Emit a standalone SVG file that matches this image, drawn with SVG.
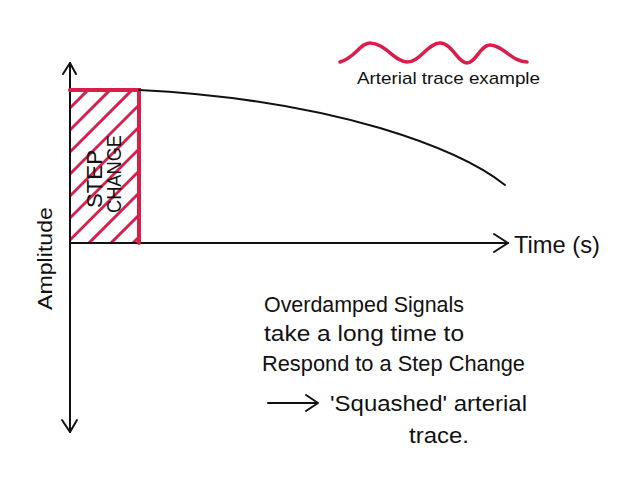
<svg xmlns="http://www.w3.org/2000/svg" width="620" height="489" viewBox="0 0 620 489">
<style>
.ax{stroke:#111;stroke-width:2;fill:none;stroke-linecap:round;stroke-linejoin:round}
.red{stroke:#d81e4a;fill:none;stroke-linecap:round}
.t{font-family:"Liberation Sans",Arial,sans-serif;fill:#111}
</style>
<defs>
<clipPath id="cr"><rect x="71" y="91" width="67" height="151"/></clipPath>
</defs>
<rect width="620" height="489" fill="#fff"/>
<g id="connectors">
<path class="ax" d="M70,63 L70,432"/>
<path class="ax" d="M63,74 L70,63 L76,74"/>
<path class="ax" d="M62,420 L70,432 L77,420"/>
<path class="ax" d="M70,243 L508,243"/>
<path class="ax" d="M494,234 L508,243 L494,252"/>
<path class="ax" d="M268,403 L318,403 M306,395 L318,403 L306,411"/>
</g>
<g id="step-change">
<g clip-path="url(#cr)" class="red" stroke-width="3">
<path d="M60,118 L106,72 M60,140 L128,72 M60,162 L150,72 M60,184 L160,84 M60,206 L160,106 M60,228 L160,128 M60,250 L160,150 M70,262 L160,172 M92,262 L160,194 M114,262 L160,216 M136,262 L160,238"/>
</g>
<path class="red" stroke-width="4" d="M70,90 L139,90 L139,243"/>
<text class="t" font-size="22" textLength="58" lengthAdjust="spacingAndGlyphs" transform="translate(102,208) rotate(-90)">STEP</text>
<text class="t" font-size="20" textLength="78" lengthAdjust="spacingAndGlyphs" transform="translate(121,213) rotate(-90)">CHANGE</text>
</g>
<g id="curve">
<path class="ax" stroke-width="2.5" d="M139,90 C220,94 300,105 380,128 C440,146 480,165 505,185"/>
</g>
<g id="arterial-example">
<path class="red" stroke-width="3.5" d="M340,62 C355,58 360,43 370,43 C385,43 395,62 407,62 C420,62 428,43 440,43 C452,43 458,63 467,63 C476,63 480,45 490,45 C503,45 512,62 527,62"/>
<text class="t" font-size="17" x="357" y="84" textLength="183" lengthAdjust="spacingAndGlyphs">Arterial trace example</text>
</g>
<g id="amplitude">
<text class="t" font-size="21" textLength="103" lengthAdjust="spacingAndGlyphs" transform="translate(52,310) rotate(-90)">Amplitude</text>
</g>
<g id="time">
<text class="t" font-size="24" x="514" y="253" textLength="86" lengthAdjust="spacingAndGlyphs">Time (s)</text>
</g>
<g id="note">
<text class="t" font-size="22" x="264" y="312" textLength="200" lengthAdjust="spacingAndGlyphs">Overdamped Signals</text>
<text class="t" font-size="22" x="264" y="341" textLength="200" lengthAdjust="spacingAndGlyphs">take a long time to</text>
<text class="t" font-size="22" x="262" y="371" textLength="263" lengthAdjust="spacingAndGlyphs">Respond to a Step Change</text>
<text class="t" font-size="22" x="330" y="411" textLength="197" lengthAdjust="spacingAndGlyphs">'Squashed' arterial</text>
<text class="t" font-size="22" x="409" y="443" textLength="60" lengthAdjust="spacingAndGlyphs">trace.</text>
</g>
</svg>
